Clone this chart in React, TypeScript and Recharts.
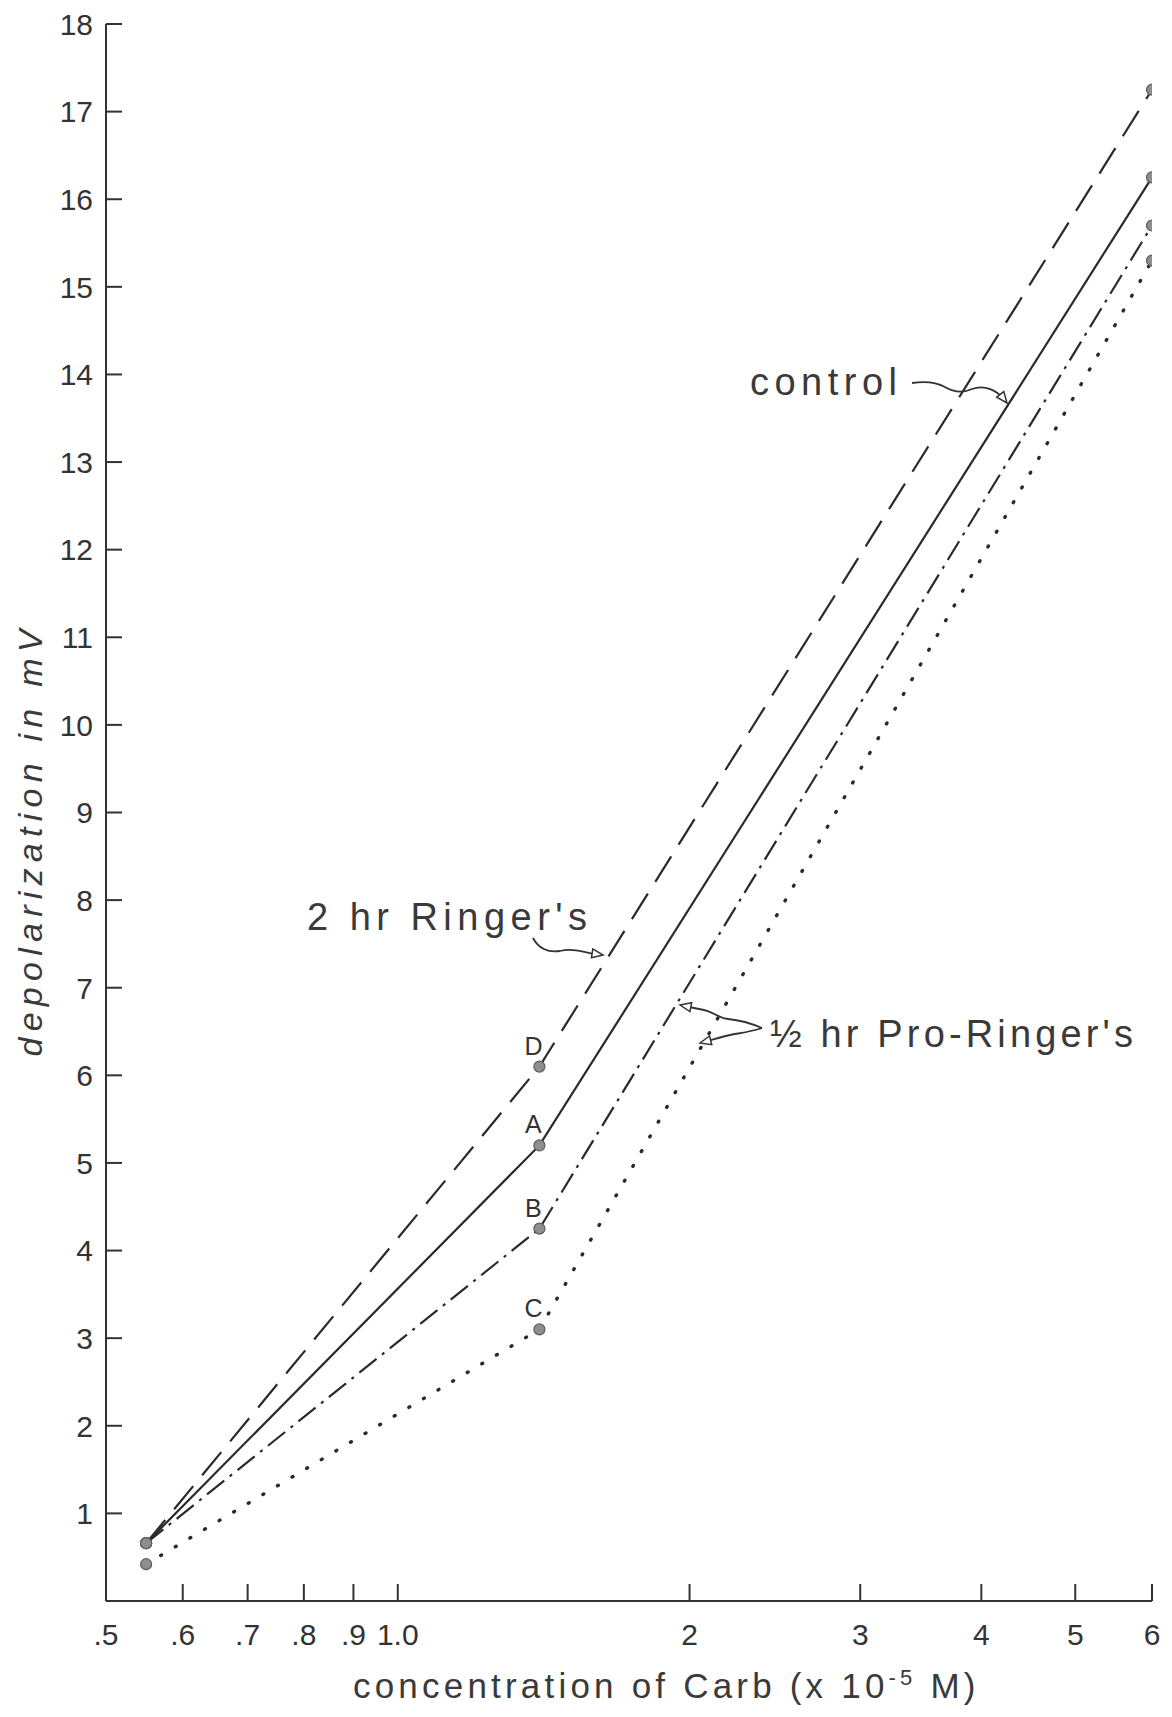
import { LineChart, Line, XAxis, YAxis } from 'recharts';

// carbachol concentration (x 10^-5 M) at which each depolarization was recorded
const concentration = [0.55, 1.4, 6];

// depolarization in mV for each preparation
const controlMv = [0.66, 5.2, 16.25];
const ringer2hrMv = [0.66, 6.1, 17.25];
const proRingerBMv = [0.66, 4.25, 15.7];
const proRingerCMv = [0.42, 3.1, 15.3];

const xTicks = [0.5, 0.6, 0.7, 0.8, 0.9, 1.0, 2, 3, 4, 5, 6];
const xTickLabels = ['.5', '.6', '.7', '.8', '.9', '1.0', '2', '3', '4', '5', '6'];
const yTicks = [1, 2, 3, 4, 5, 6, 7, 8, 9, 10, 11, 12, 13, 14, 15, 16, 17, 18];

const data = concentration.map((c, i) => ({
  c,
  control: controlMv[i],
  ringer: ringer2hrMv[i],
  proB: proRingerBMv[i],
  proC: proRingerCMv[i]
}));

const ink = '#333';
const font = '"Liberation Sans", Arial, sans-serif';

const series = [
  { key: 'ringer', letter: 'D', dash: '30 14', cap: 'butt' },
  { key: 'control', letter: 'A', dash: undefined, cap: 'butt' },
  { key: 'proB', letter: 'B', dash: '22 7 3 7', cap: 'butt' },
  { key: 'proC', letter: 'C', dash: '1 16', cap: 'round' }
];

const makeDot = (letter: string) => (props: any) => {
  const { cx, cy, index } = props;
  return (
    <g key={`${letter}-${index}`}>
      <circle cx={cx} cy={cy} r={5.5} fill="#8e8e8e" stroke="#5c5c5c" strokeWidth={1.2} />
      {index === 1 && (
        <text x={cx - 6} y={cy - 12} textAnchor="middle" fontSize={25} fill={ink} fontFamily={font}>
          {letter}
        </text>
      )}
    </g>
  );
};

const XTick = (props: any) => {
  const { x, y, payload } = props;
  const label = xTickLabels[xTicks.indexOf(payload.value)];
  return (
    <g>
      {payload.value !== 0.5 && <line x1={x} y1={y} x2={x} y2={y - 17} stroke={ink} strokeWidth={2} />}
      <text x={x} y={y + 44} textAnchor="middle" fontSize={30} fill={ink} fontFamily={font}>
        {label}
      </text>
    </g>
  );
};

const YTick = (props: any) => {
  const { x, y, payload } = props;
  return (
    <g>
      <line x1={x} y1={y} x2={x + 16} y2={y} stroke={ink} strokeWidth={2} />
      <text x={x - 13} y={y} dy="0.36em" textAnchor="end" fontSize={30} fill={ink} fontFamily={font}>
        {payload.value}
      </text>
    </g>
  );
};

// hand-drawn pointer with an open arrowhead at the end
const Pointer = ({ d, tip, from }: { d: string; tip: [number, number]; from: [number, number] }) => {
  const dx = tip[0] - from[0];
  const dy = tip[1] - from[1];
  const len = Math.hypot(dx, dy);
  const ux = dx / len;
  const uy = dy / len;
  const bx = tip[0] - ux * 11;
  const by = tip[1] - uy * 11;
  const pts = `${tip[0]},${tip[1]} ${bx - uy * 4.5},${by + ux * 4.5} ${bx + uy * 4.5},${by - ux * 4.5}`;
  return (
    <g>
      <path d={d} fill="none" stroke={ink} strokeWidth={1.8} />
      <polygon points={pts} fill="#fff" stroke={ink} strokeWidth={1.5} />
    </g>
  );
};

export default function App() {
  return (
    <div style={{ position: 'absolute', left: 0, top: 0, width: 1172, height: 1717, background: '#fff' }}>
      <LineChart width={1172} height={1717} data={data} margin={{ top: 24, right: 20, bottom: 56, left: 36 }}>
        <XAxis
          dataKey="c"
          type="number"
          scale="log"
          domain={[0.5, 6]}
          ticks={xTicks}
          interval={0}
          allowDataOverflow
          height={60}
          tickSize={0}
          tickMargin={0}
          tick={<XTick />}
          axisLine={{ stroke: ink, strokeWidth: 2 }}
        />
        <YAxis
          type="number"
          domain={[0, 18]}
          ticks={yTicks}
          interval={0}
          width={70}
          tickSize={0}
          tickMargin={0}
          tick={<YTick />}
          axisLine={{ stroke: ink, strokeWidth: 2 }}
        />
        {series.map((s) => (
          <Line
            key={s.key}
            type="linear"
            dataKey={s.key}
            stroke="#2a2a2a"
            strokeWidth={s.key === 'proC' ? 3.4 : 2.2}
            strokeDasharray={s.dash}
            strokeLinecap={s.cap as any}
            dot={makeDot(s.letter)}
            activeDot={false}
            isAnimationActive={false}
          />
        ))}
      </LineChart>

      <svg
        width={1172}
        height={1717}
        style={{ position: 'absolute', left: 0, top: 0, pointerEvents: 'none' }}
        fontFamily={font}
      >
        <text
          transform="translate(42 843) rotate(-90)"
          textAnchor="middle"
          fontSize={34}
          fontStyle="italic"
          fill="#3a3a3a"
          textLength={427}
          lengthAdjust="spacing"
        >
          depolarization in mV
        </text>
        <text x={353} y={1698} fontSize={35} fill="#3a3a3a" letterSpacing={4.2}>
          concentration of Carb (x 10
          <tspan dy={-13} fontSize={22}>
            -5
          </tspan>
          <tspan dy={13}> M)</tspan>
        </text>

        <text x={750} y={395} fontSize={38} fill="#3a3a3a" textLength={147} lengthAdjust="spacing">
          control
        </text>
        <Pointer
          d="M912 383 C925 381 936 382 945 387 C955 393 963 393 972 389 C985 384 997 391 1004 399"
          tip={[1007, 403]}
          from={[1000, 394]}
        />

        <text x={307} y={930} fontSize={38} fill="#3a3a3a" textLength={280} lengthAdjust="spacing">
          2 hr Ringer's
        </text>
        <Pointer d="M533 938 C538 948 548 953 560 951 C572 948 585 952 598 955" tip={[603, 955]} from={[590, 953]} />

        <text x={770} y={1047} fontSize={38} fill="#3a3a3a" textLength={363} lengthAdjust="spacing">
          ½ hr Pro-Ringer's
        </text>
        <Pointer
          d="M762 1028 C748 1022 738 1020 728 1019 C718 1018 714 1012 704 1010 L684 1006"
          tip={[680, 1005]}
          from={[695, 1008]}
        />
        <Pointer d="M762 1028 C750 1032 740 1033 730 1035 C720 1037 712 1040 704 1042" tip={[700, 1043]} from={[712, 1040]} />
      </svg>
    </div>
  );
}
